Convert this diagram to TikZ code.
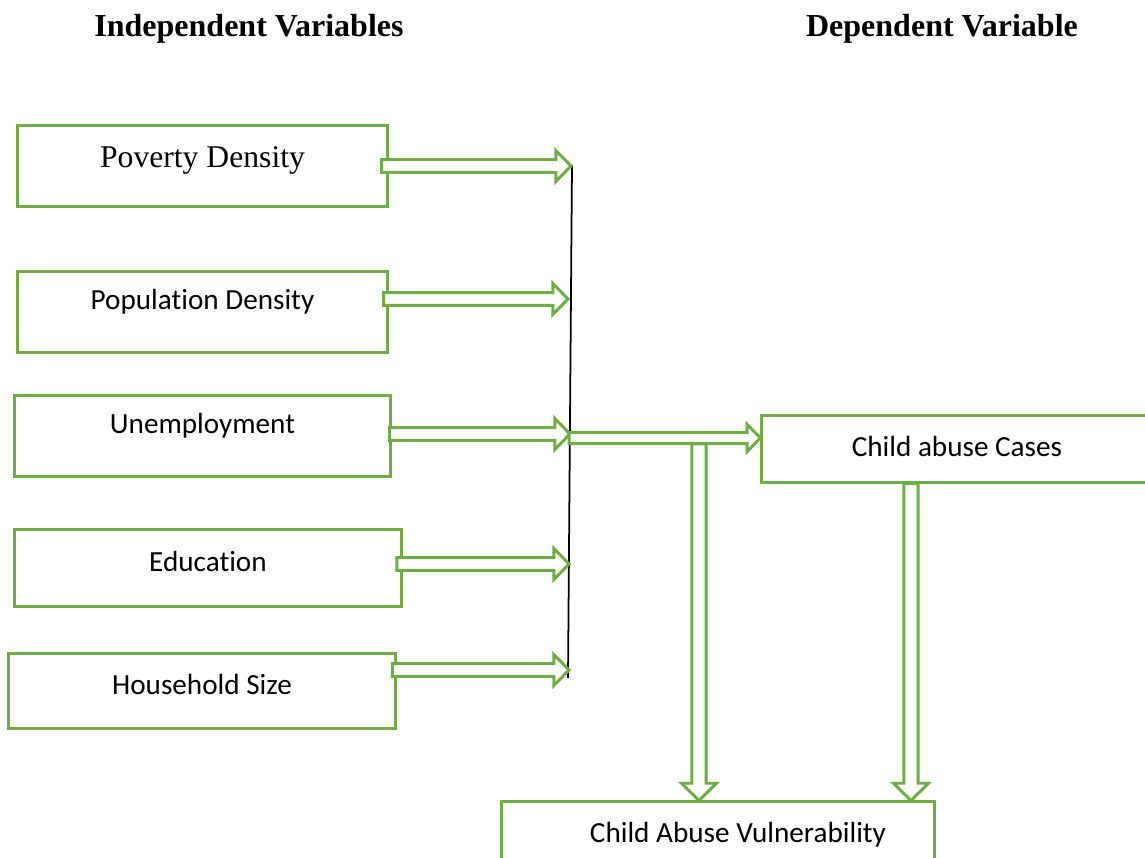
\documentclass[tikz,border=0pt]{standalone}
\usepackage{fontspec}
\setmainfont{Liberation Serif}
\newfontfamily\calfont[Ligatures=NoCommon]{Carlito}
\usetikzlibrary{calc}
\definecolor{boxgreen}{HTML}{70AD47}

% size of the block arrows
\newcommand{\shaftw}{1.8pt}
\newcommand{\headw}{4.4pt}
\newcommand{\headl}{4.3pt}

% block arrow, left to right
\newcommand{\harrow}[2]{%
  \draw[blockarrow] let \p1=(#1), \p2=(#2) in
    (\x1,\y1+\shaftw) -- (\x2-\headl,\y1+\shaftw) -- (\x2-\headl,\y1+\headw)
    -- (\x2,\y1) -- (\x2-\headl,\y1-\headw) -- (\x2-\headl,\y1-\shaftw)
    -- (\x1,\y1-\shaftw) -- cycle;}
% block arrow, top to bottom
\newcommand{\varrow}[2]{%
  \draw[blockarrow] let \p1=(#1), \p2=(#2) in
    (\x1-\shaftw,\y1) -- (\x1-\shaftw,\y2+\headl) -- (\x1-\headw,\y2+\headl)
    -- (\x1,\y2) -- (\x1+\headw,\y2+\headl) -- (\x1+\shaftw,\y2+\headl)
    -- (\x1+\shaftw,\y1) -- cycle;}

\begin{document}
\begin{tikzpicture}[x=0.01cm, y=-0.01cm,
  var/.style={draw=boxgreen, line width=0.85pt, inner sep=0pt},
  blockarrow/.style={draw=boxgreen, line width=0.85pt, fill=white, line join=miter},
  lbl/.style={font=\calfont\fontsize{8.3}{10}\selectfont},
  title/.style={font=\bfseries\fontsize{9.1}{11}\selectfont}]
  \useasboundingbox (0,0) rectangle (1145,858);

  \node[title] (indep) at (249,29) {Independent Variables};
  \node[title] (dep) at (942,29) {Dependent Variable};

  % the black collector line and the arrow tips on it
  \coordinate (top) at (572,165);
  \coordinate (bot) at (568,678);
  \coordinate (t1) at (571,166);
  \coordinate (t2) at (568,299);
  \coordinate (t3) at (570,434);
  \coordinate (t4) at (569,564);
  \coordinate (t5) at (569,670);
  \coordinate (join) at (569,438);
  \coordinate (split) at (699,444);

  \draw[black, line width=0.5pt] (top) -- (bot);

  \node[var, minimum width=3.69cm, minimum height=0.8cm,
    label={[font=\fontsize{9}{11}\selectfont, yshift=0.06cm]center:Poverty Density}] (pov) at (202.5,166) {};
  \node[var, minimum width=3.69cm, minimum height=0.8cm,
    label={[lbl, yshift=0.1cm]center:Population Density}] (pop) at (202.5,312) {};
  \node[var, minimum width=3.75cm, minimum height=0.8cm,
    label={[lbl, yshift=0.1cm]center:Unemployment}] (unemp) at (202.5,436) {};
  \node[var, minimum width=3.86cm, minimum height=0.76cm,
    label={[lbl, yshift=0.07cm]center:Education}] (edu) at (208,568) {};
  \node[var, minimum width=3.86cm, minimum height=0.74cm,
    label={[lbl, yshift=0.07cm]center:Household Size}] (hh) at (202,691) {};
  \node[var, minimum width=3.98cm, minimum height=0.66cm,
    label={[lbl, xshift=-0.04cm, yshift=0.03cm]center:Child abuse Cases}] (cases) at (961,449) {};
  \node[var, minimum width=4.32cm, minimum height=0.78cm,
    label={[lbl, xshift=0.2cm, yshift=0.06cm]center:Child Abuse Vulnerability}] (vuln) at (718,841) {};

  \harrow{[xshift=-2pt]pov.east |- t1}{t1}
  \harrow{[xshift=-1.4pt]pop.east |- t2}{t2}
  \harrow{[xshift=-0.6pt]unemp.east |- t3}{t3}
  \harrow{[xshift=-1.6pt]edu.east |- t4}{t4}
  \harrow{[xshift=-1.2pt]hh.east |- t5}{t5}

  \renewcommand{\shaftw}{1.6pt}
  \renewcommand{\headw}{3.9pt}
  \renewcommand{\headl}{3.8pt}
  \harrow{join}{cases.west |- join}

  \renewcommand{\shaftw}{2pt}
  \renewcommand{\headw}{5pt}
  \renewcommand{\headl}{4.9pt}
  \varrow{split}{split |- vuln.north}
  \varrow{[xshift=-0.5cm]cases.south}{[xshift=-0.5cm]cases.south |- vuln.north}
\end{tikzpicture}
\end{document}
